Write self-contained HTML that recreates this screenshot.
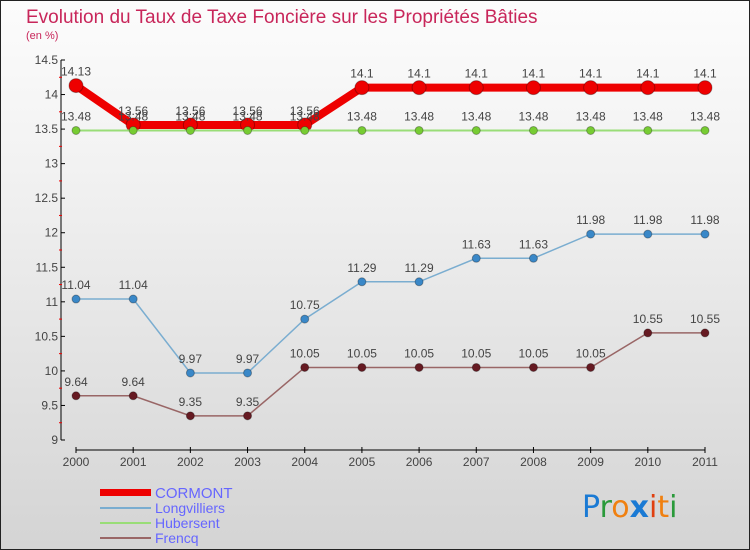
<!DOCTYPE html>
<html><head><meta charset="utf-8"><style>
body{margin:0;width:750px;height:550px;overflow:hidden;font-family:"Liberation Sans",sans-serif}
#wrap{position:absolute;left:0;top:0;width:748px;height:548px;border:1px solid #222;background:linear-gradient(#fcfcfc,#f2f2f2 30%,#d4d4d4)}
</style></head><body>
<div id="wrap">
<svg id="chart" width="750" height="550" style="position:absolute;left:-1px;top:-1px">
<text x="26" y="23" font-size="19" fill="#c8265a">Evolution du Taux de Taxe Foncière sur les Propriétés Bâties</text>
<text x="26" y="39" font-size="11" fill="#c8265a">(en %)</text>
<g id="axes"></g><g id="series"></g>
<g>
<rect x="100" y="489" width="51" height="7" fill="#e00"/>
<text x="155" y="498" font-size="15" fill="#6666ff">CORMONT</text>
<line x1="100" x2="151" y1="508" y2="508" stroke="#7aadd0" stroke-width="2"/>
<text x="155" y="513" font-size="14" fill="#6666ff">Longvilliers</text>
<line x1="100" x2="151" y1="523" y2="523" stroke="#99dd77" stroke-width="2"/>
<text x="155" y="528" font-size="14" fill="#6666ff">Hubersent</text>
<line x1="100" x2="151" y1="538" y2="538" stroke="#996666" stroke-width="2"/>
<text x="155" y="543" font-size="14" fill="#6666ff">Frencq</text>
</g>
<g font-size="30" font-family="DejaVu Sans, sans-serif">
<text x="582" y="517"><tspan fill="#1a7ad4">P</tspan><tspan fill="#2a9a3a">r</tspan><tspan fill="#f08010">o</tspan><tspan fill="#1a7ad4" font-weight="bold">x</tspan><tspan fill="#e04010">i</tspan><tspan fill="#f08010">t</tspan><tspan fill="#2a9a3a">i</tspan></text>
</g>
</svg></div>
<script>
const years=[2000,2001,2002,2003,2004,2005,2006,2007,2008,2009,2010,2011];
const yTicks=[9,9.5,10,10.5,11,11.5,12,12.5,13,13.5,14,14.5];
const cormont=[14.13,13.56,13.56,13.56,13.56,14.1,14.1,14.1,14.1,14.1,14.1,14.1];
const longvilliers=[11.04,11.04,9.97,9.97,10.75,11.29,11.29,11.63,11.63,11.98,11.98,11.98];
const hubersent=[13.48,13.48,13.48,13.48,13.48,13.48,13.48,13.48,13.48,13.48,13.48,13.48];
const frencq=[9.64,9.64,9.35,9.35,10.05,10.05,10.05,10.05,10.05,10.05,10.55,10.55];
const NS='http://www.w3.org/2000/svg';
const X=i=>76+i*(705-76)/11;
const Y=v=>440-(v-9)*(380/5.5);
function mk(t,a,p){const e=document.createElementNS(NS,t);for(const k in a)e.setAttribute(k,a[k]);p.appendChild(e);return e;}
const ax=document.getElementById('axes'),se=document.getElementById('series');
const yl=mk('line',{x1:61,x2:61,y1:60,y2:440,stroke:'#000','stroke-width':1},ax);


yTicks.forEach((v,k)=>{
 mk('line',{x1:61,x2:65,y1:Y(v),y2:Y(v),stroke:'#000'},ax);
 if(k<yTicks.length-1) mk('line',{x1:59,x2:62,y1:Y(v+0.25),y2:Y(v+0.25),stroke:'#e00'},ax);
 const t=mk('text',{x:58,y:Y(v)+4,'font-size':12,fill:'#444','text-anchor':'end'},ax);t.textContent=v;
 
 
});
const xl=mk('line',{x1:76,x2:705,y1:450,y2:450,stroke:'#000'},ax);


years.forEach((y,i)=>{
 mk('line',{x1:X(i),x2:X(i),y1:447,y2:453,stroke:'#000'},ax);
 const t=mk('text',{x:X(i),y:466,'font-size':12,fill:'#444','text-anchor':'middle'},ax);t.textContent=y;
 
 
});
function series(name,vals,color,w,r,mcol){
 const g=mk('g',{},se);
 
 
 mk('polyline',{points:vals.map((v,i)=>X(i)+','+Y(v)).join(' '),fill:'none',stroke:color,'stroke-width':w},g);
 vals.forEach((v,i)=>{
  const c=mk('circle',{cx:X(i),cy:Y(v),r:r,fill:mcol,stroke:'rgba(0,0,0,0.3)','stroke-width':1},g);
  
  
  const t=mk('text',{x:X(i),y:Y(v)-10,'font-size':12,fill:'#444','text-anchor':'middle'},g);t.textContent=v;
  
  
 });
}
series('frencq',frencq,'#996666',1.5,4,'#661a22');
series('longvilliers',longvilliers,'#7aadd0',1.5,4,'#3a88c8');
series('cormont',cormont,'#ee0000',8,7,'#ee0000');
series('hubersent',hubersent,'#99dd77',2,4,'#77cc33');
</script>
</body></html>
